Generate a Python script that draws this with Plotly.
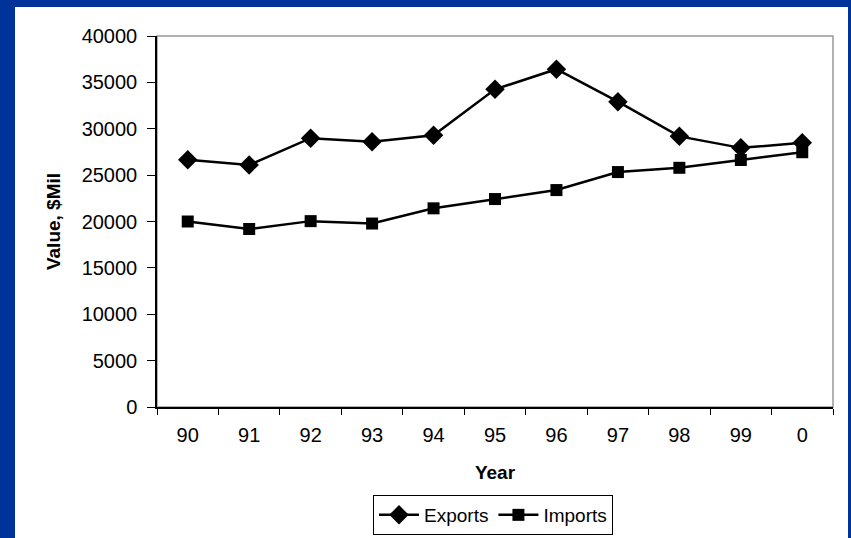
import plotly.graph_objects as go

# Trade values, $Mil
years = ["90", "91", "92", "93", "94", "95", "96", "97", "98", "99", "0"]
exports = [26650, 26100, 28980, 28600, 29300, 34250, 36420, 32920, 29180, 27940, 28480]
imports = [20000, 19190, 20040, 19780, 21420, 22420, 23390, 25330, 25790, 26630, 27470]

W, H = 851, 538
ml, mr, mt, mb = 157, 18, 36, 131
pw, ph = W - ml - mr, H - mt - mb

blue = "#003399"
font = "Liberation Sans, Arial, sans-serif"

fig = go.Figure()

fig.add_trace(go.Scatter(
    x=years, y=exports, name="Exports", mode="lines+markers",
    line=dict(color="black", width=2.5),
    marker=dict(symbol="diamond", size=15, color="black"),
))
fig.add_trace(go.Scatter(
    x=years, y=imports, name="Imports", mode="lines+markers",
    line=dict(color="black", width=2.5),
    marker=dict(symbol="square", size=12, color="black"),
))

# white slide panel on top of the blue background
fig.add_shape(
    type="rect", xref="paper", yref="paper", layer="below",
    x0=(15 - ml) / pw, x1=(848 - ml) / pw,
    y0=(mt + ph - H - 5) / ph, y1=(mt + ph - 7) / ph,
    fillcolor="white", line=dict(width=0),
)
# plot area frame (grey top/right)
fig.add_shape(
    type="rect", xref="paper", yref="paper", layer="below",
    x0=0, x1=1, y0=0, y1=1,
    line=dict(color="#999999", width=1.5),
)

fig.update_layout(
    width=W, height=H,
    margin=dict(l=ml, r=mr, t=mt, b=mb, autoexpand=False),
    paper_bgcolor=blue,
    plot_bgcolor="white",
    font=dict(family=font, size=20, color="black"),
    showlegend=True,
    legend=dict(
        orientation="h", x=(493 - ml) / pw, xanchor="center",
        y=(mt + ph - 495) / ph, yanchor="top",
        bordercolor="black", borderwidth=1, bgcolor="white",
        font=dict(size=19), itemwidth=40, tracegroupgap=0,
    ),
    xaxis=dict(
        type="category", range=[-0.5, 10.5], automargin=False,
        tickson="boundaries", ticks="outside", ticklen=6, tickcolor="black",
        showline=True, linecolor="black", linewidth=1.5,
        showgrid=False, zeroline=False,
        ticklabelstandoff=9,
        title=dict(text="<b>Year</b>", font=dict(size=19), standoff=21),
    ),
    yaxis=dict(
        range=[0, 40000], dtick=5000, tickformat="d", automargin=False,
        ticks="outside", ticklen=8, tickcolor="black",
        showline=True, linecolor="black", linewidth=1.5,
        showgrid=False, zeroline=False,
        ticklabelstandoff=6,
        title=dict(text="<b>Value, $Mil</b>", font=dict(size=19), standoff=16),
    ),
)

fig.write_html(
    "out.html",
    config={"displayModeBar": False},
    post_script="document.body.style.margin='0';",
)
